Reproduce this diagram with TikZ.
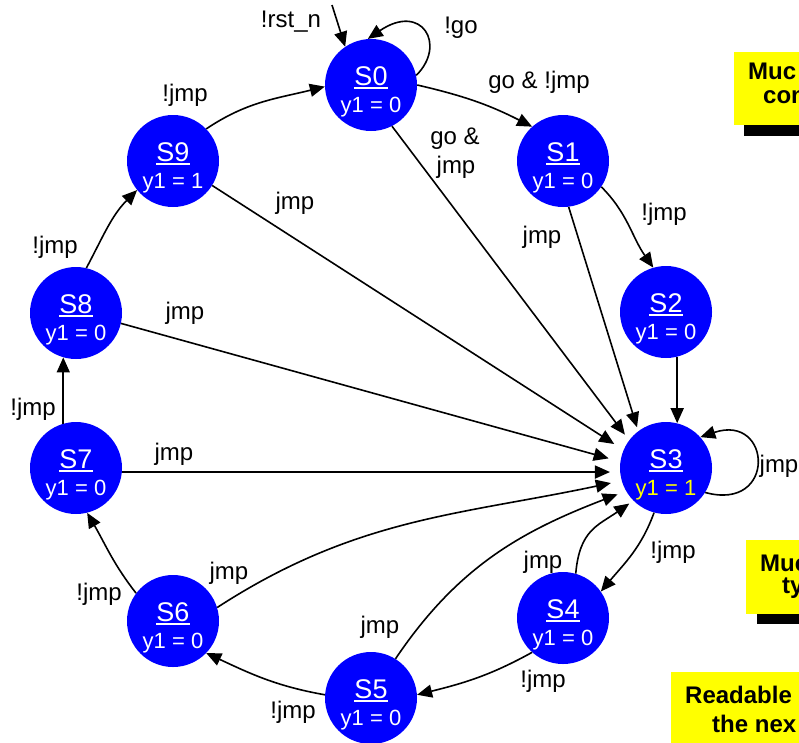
\documentclass[tikz,border=0pt]{standalone}
\usepackage{fontspec}
\setmainfont{Liberation Sans}
\usetikzlibrary{arrows.meta,calc}
\definecolor{stblue}{RGB}{0,0,255}
\definecolor{noteyellow}{RGB}{255,255,0}
\newcommand{\stul}[1]{\setbox0=\hbox{#1}\rlap{\rule[-4pt]{\wd0}{2pt}}\box0}
\newcommand{\mkstate}[6]{%
  \node[st] (#1) at (#2,-#3) {};
  \node[ttl] (#1t) at (#1.center) {\stul{#4}};
  \node[sub, text=#6] (#1s) at ([yshift=-27pt]#1.center) {#5};
}
\tikzset{
  st/.style={circle, fill=stblue, draw=none, minimum size=92pt, inner sep=0pt},
  ttl/.style={text=white, font=\fontsize{27}{27}\selectfont, inner sep=0pt, anchor=base},
  sub/.style={font=\fontsize{22}{22}\selectfont, inner sep=0pt, anchor=base},
  lbl/.style={font=\fontsize{24}{24}\selectfont, inner sep=0pt},
  arr/.style={-{Triangle[length=15pt,width=13pt]}, line width=1.6pt},
  notebox/.style={fill=noteyellow, draw=none},
  noteshadow/.style={fill=black, draw=none},
  notetxt/.style={font=\bfseries\fontsize{24}{24}\selectfont, anchor=base west, inner sep=0pt}
}
\begin{document}
\begin{tikzpicture}[x=1pt,y=1pt]
\useasboundingbox (0,0) rectangle (799,-742);
\clip (0,0) rectangle (799,-742);

% yellow notes (cut by the right / bottom edge)
\fill[noteshadow] (744,-63) rectangle (820,-136);
\fill[notebox] (734,-52) rectangle (820,-125);
\node[notetxt] (n1a) at (748,-79) {Muc};
\node[notetxt] (n1b) at (763,-103) {con};

\fill[noteshadow] (757,-551) rectangle (820,-624);
\fill[notebox] (746,-540) rectangle (820,-614);
\node[notetxt] (n2a) at (760,-571) {Muc};
\node[notetxt] (n2b) at (782,-593) {ty};

\fill[notebox] (671,-672) rectangle (820,-760);
\node[notetxt] (n3a) at (685,-703) {Readable};
\node[notetxt] (n3b) at (712,-732) {the nex};

% states
\mkstate{S0}{371}{85}{S0}{y1 = 0}{white}
\mkstate{S1}{563}{161}{S1}{y1 = 0}{white}
\mkstate{S2}{666}{312}{S2}{y1 = 0}{white}
\mkstate{S3}{666}{468}{S3}{y1 = 1}{noteyellow}
\mkstate{S4}{563}{618}{S4}{y1 = 0}{white}
\mkstate{S5}{371}{698}{S5}{y1 = 0}{white}
\mkstate{S6}{173}{621}{S6}{y1 = 0}{white}
\mkstate{S7}{76}{468}{S7}{y1 = 0}{white}
\mkstate{S8}{76}{313}{S8}{y1 = 0}{white}
\mkstate{S9}{173}{161}{S9}{y1 = 1}{white}

% reset
\coordinate (rst) at (332,-5);
\draw[arr] (rst) -- (S0.124);

% transitions
\draw[arr] (S0.12) .. controls (447,-45) and (422,-2) .. (S0.94);
\draw[arr] (S0.0) to[out=-13, in=153] (S1.132);
\draw[arr, shorten >=7pt] (S0.-63) -- (S3.143);
\draw[arr] (S1.-34) to[out=-45, in=125] (S2.106);
\draw[arr, shorten >=4pt] (S1.-83) -- (S3.127);
\draw[arr] (S2.-76) -- (S3.76);
\draw[arr] (S3.-32) .. controls (777,-512) and (772,-413) .. (S3.42);
\draw[arr] (S3.-105) to[out=-110, in=50] (S4.35);
\draw[arr, shorten >=5pt] (S4.74) to[out=85, in=215, looseness=1.2] (S3.225);
\draw[arr] (S4.228) to[out=209, in=14] (S5.4);
\draw[arr, shorten >=9pt] (S5.58) to[out=56, in=201] (S3.210);
\draw[arr] (S5.176) to[out=170, in=-25] (S6.-44);
\draw[arr, shorten >=11pt] (S6.17) to[out=33, in=192] (S3.196);
\draw[arr] (S6.143) to[out=128, in=-60] (S7.-76);
\draw[arr, shorten >=10pt] (S7.-5) -- (S3.185);
\draw[arr] (S7.106) -- (S8.254);
\draw[arr, shorten >=12pt] (S8.-13) -- (S3.172);
\draw[arr] (S8.77) to[out=62, in=225] (S9.219);
\draw[arr, shorten >=11pt] (S9.-32) -- (S3.157);
\draw[arr] (S9.44) to[out=34, in=194] (S0.182);

% labels
\node[lbl] (lrst) at (291,-22) {!rst\_n};
\node[lbl] (lgo) at (461,-28) {!go};
\node[lbl] (l01) at (539,-82) {go \& !jmp};
\node[lbl] (l03a) at (455,-139) {go \&};
\node[lbl] (l03b) at (456,-167) {jmp};
\node[lbl] (l12) at (664,-214) {!jmp};
\node[lbl] (l13) at (542,-237) {jmp};
\node[lbl] (l90) at (185,-95) {!jmp};
\node[lbl] (l93) at (295,-203) {jmp};
\node[lbl] (l89) at (55,-247) {!jmp};
\node[lbl] (l83) at (185,-313) {jmp};
\node[lbl] (l78) at (33,-409) {!jmp};
\node[lbl] (l73) at (174,-454) {jmp};
\node[lbl] (l67) at (99,-594) {!jmp};
\node[lbl] (l63) at (229,-573) {jmp};
\node[lbl] (l56) at (293,-712) {!jmp};
\node[lbl] (l53) at (380,-627) {jmp};
\node[lbl] (l43) at (543,-562) {jmp};
\node[lbl] (l45) at (543,-681) {!jmp};
\node[lbl] (l34) at (673,-552) {!jmp};
\node[lbl] (l33) at (779,-466) {jmp};
\end{tikzpicture}
\end{document}
